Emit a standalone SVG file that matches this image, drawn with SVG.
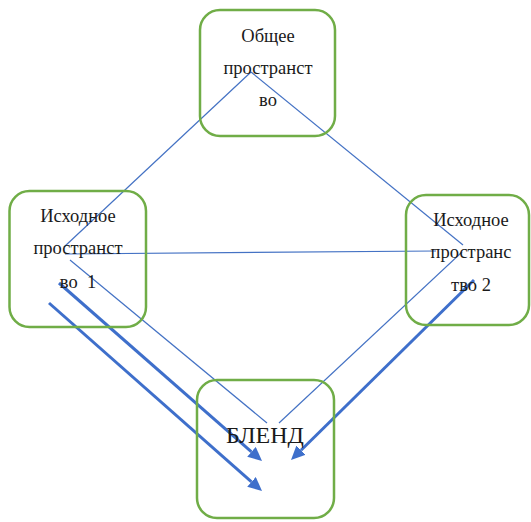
<svg xmlns="http://www.w3.org/2000/svg" width="531" height="522" viewBox="0 0 531 522">
<style>
.box{fill:none;stroke:#70AD47;stroke-width:2.5}
.t{font-family:"Liberation Serif","Times New Roman",serif;font-size:18.5px;fill:#1a1a1a;text-anchor:middle}
.big{font-size:24px}
.thin{stroke:#4472C4;stroke-width:1.2;fill:none}
.thick{stroke:#3E6FCB;stroke-width:3;fill:none}
</style>
<defs>
<marker id="ah" markerUnits="userSpaceOnUse" markerWidth="14" markerHeight="13" viewBox="0 0 14 13" refX="0" refY="6.5" orient="auto">
<path d="M0,0 L14,6.5 L0,13 z" fill="#3E6FCB"/>
</marker>
</defs>
<rect width="531" height="522" fill="#ffffff"/>
<g id="connectors">
<line class="thin" x1="251" y1="72" x2="64" y2="247"/>
<line class="thin" x1="251" y1="72" x2="463" y2="245"/>
<line class="thin" x1="65" y1="254" x2="436" y2="251"/>
<line class="thin" x1="70" y1="260" x2="267" y2="423"/>
<line class="thin" x1="462" y1="252" x2="279" y2="423"/>
<line class="thick" x1="59" y1="283" x2="251.5" y2="451.8" marker-end="url(#ah)"/>
<line class="thick" x1="49" y1="303" x2="251.5" y2="481.8" marker-end="url(#ah)"/>
<line class="thick" x1="474" y1="280" x2="301" y2="450.2" marker-end="url(#ah)"/>
</g>
<g id="common">
<rect class="box" x="200" y="10" width="135" height="126" rx="20"/>
<text class="t" x="268" y="42">Общее</text>
<text class="t" x="268" y="74">пространст</text>
<text class="t" x="268" y="106">во</text>
</g>
<g id="input1">
<rect class="box" x="9.5" y="191" width="136.5" height="136" rx="20"/>
<text class="t" x="78" y="222">Исходное</text>
<text class="t" x="78" y="254">пространст</text>
<text class="t" x="78" y="288" xml:space="preserve">во  1</text>
</g>
<g id="input2">
<rect class="box" x="406" y="195" width="123" height="130" rx="20"/>
<text class="t" x="471" y="226">Исходное</text>
<text class="t" x="471" y="258">пространс</text>
<text class="t" x="471" y="291">тво 2</text>
</g>
<g id="blend">
<rect class="box" x="197" y="380" width="137" height="138" rx="20"/>
<text class="t big" x="265" y="443">БЛЕНД</text>
</g>
</svg>
